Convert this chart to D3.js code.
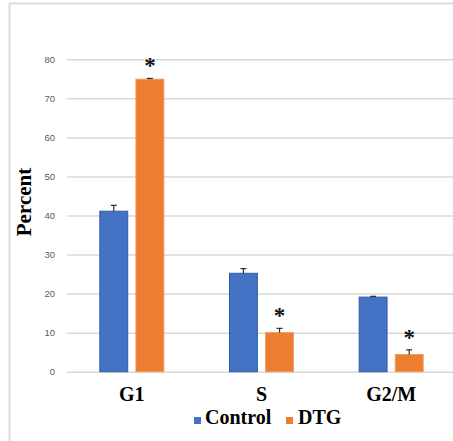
<!DOCTYPE html>
<html>
<head>
<meta charset="utf-8">
<script src="https://cdn.jsdelivr.net/npm/d3@7"></script>
<style>
  html, body { margin: 0; padding: 0; background: #ffffff; }
  svg { display: block; }
</style>
</head>
<body>
<svg id="chart" width="453" height="441"></svg>
<script>
// Cell-cycle phase distribution (percent of cells), mean with upper error
const phases = ["G1", "S", "G2/M"];
const seriesNames = ["Control", "DTG"];
const controlValues = [41.1, 25.2, 19.1];
const controlErrors = [1.5, 1.2, 0.2];
const dtgValues = [74.9, 10.0, 4.4];
const dtgErrors = [0.2, 1.1, 1.2];
const significant = [true, true, true]; // DTG vs Control
const yTicks = [0, 10, 20, 30, 40, 50, 60, 70, 80];

const colors = { Control: "#4472c4", DTG: "#ed7d31" };
const strokes = { Control: "#2f5ba8", DTG: "#f19a5c" };

const rows = [];
phases.forEach((p, i) => {
  rows.push({ phase: p, series: "Control", value: controlValues[i], err: controlErrors[i], star: false });
  rows.push({ phase: p, series: "DTG", value: dtgValues[i], err: dtgErrors[i], star: significant[i] });
});

const svg = d3.select("#chart");

// outer frame (left and top edges visible)
svg.append("path")
  .attr("d", "M9.5,441 V3.5 H453")
  .attr("fill", "none")
  .attr("stroke", "#dcdcdc")
  .attr("stroke-width", 2);

const y = d3.scaleLinear().domain([0, 80]).range([371.7, 59.3]);
const x = d3.scaleBand().domain(phases).range([67, 456]).paddingInner(0).paddingOuter(0);
const xs = d3.scaleBand().domain(seriesNames).range([0, 65]).paddingInner(0.2);
const groupOffset = (x.bandwidth() - 65) / 2;

// gridlines
const yAxis = d3.axisLeft(y).tickValues(yTicks).tickSize(-(453 - 67)).tickPadding(12);
const gAxis = svg.append("g").attr("transform", "translate(67,0)").call(yAxis);
gAxis.select(".domain").remove();
gAxis.selectAll(".tick line").attr("stroke", "#d9d9d9").attr("stroke-width", 1.5);
gAxis.selectAll(".tick text")
  .attr("fill", "#595959")
  .style("font-family", "'Liberation Sans', Arial, sans-serif")
  .style("font-size", "9.5px");

// y title
svg.append("text")
  .attr("transform", "translate(31,202) rotate(-90)")
  .attr("text-anchor", "middle")
  .style("font-family", "'Liberation Serif', 'Times New Roman', serif")
  .style("font-weight", "bold")
  .style("font-size", "21px")
  .attr("fill", "#000")
  .text("Percent");

// bars
const barX = d => x(d.phase) + groupOffset + xs(d.series);
svg.append("g").selectAll("rect")
  .data(rows).join("rect")
  .attr("x", d => barX(d) + 0.5)
  .attr("y", d => y(d.value))
  .attr("width", xs.bandwidth() - 1)
  .attr("height", d => y(0) - y(d.value))
  .attr("fill", d => colors[d.series])
  .attr("stroke", d => strokes[d.series])
  .attr("stroke-width", 1);

// error bars (upper whisker)
const eb = svg.append("g").attr("stroke", "#2b2b2b").attr("stroke-width", 1.2);
rows.forEach(d => {
  const cx = barX(d) + xs.bandwidth() / 2;
  eb.append("line").attr("x1", cx).attr("x2", cx)
    .attr("y1", y(d.value)).attr("y2", y(d.value + d.err));
  eb.append("line").attr("x1", cx - 3).attr("x2", cx + 3)
    .attr("y1", y(d.value + d.err)).attr("y2", y(d.value + d.err));
});

// significance markers
svg.append("g").selectAll("text")
  .data(rows.filter(d => d.star)).join("text")
  .attr("x", d => barX(d) + xs.bandwidth() / 2)
  .attr("y", d => y(d.value + d.err) - 5)
  .attr("text-anchor", "middle")
  .style("font-family", "'Liberation Serif', 'Times New Roman', serif")
  .style("font-size", "23px")
  .style("font-weight", "bold")
  .attr("fill", "#111")
  .text("*");

// category labels
svg.append("g").selectAll("text")
  .data(phases).join("text")
  .attr("x", d => x(d) + x.bandwidth() / 2)
  .attr("y", 401)
  .attr("text-anchor", "middle")
  .style("font-family", "'Liberation Serif', 'Times New Roman', serif")
  .style("font-weight", "bold")
  .style("font-size", "20px")
  .attr("fill", "#000")
  .text(d => d);

// legend
const legendItems = [
  { name: "Control", sx: 194, tx: 205 },
  { name: "DTG", sx: 286, tx: 298 }
];
const lg = svg.append("g");
legendItems.forEach(it => {
  lg.append("rect").attr("x", it.sx).attr("y", 417).attr("width", 7).attr("height", 7)
    .attr("fill", colors[it.name]);
  lg.append("text").attr("x", it.tx).attr("y", 424)
    .style("font-family", "'Liberation Serif', 'Times New Roman', serif")
    .style("font-weight", "bold")
    .style("font-size", "20px")
    .attr("fill", "#000")
    .text(it.name);
});
</script>
</body>
</html>
